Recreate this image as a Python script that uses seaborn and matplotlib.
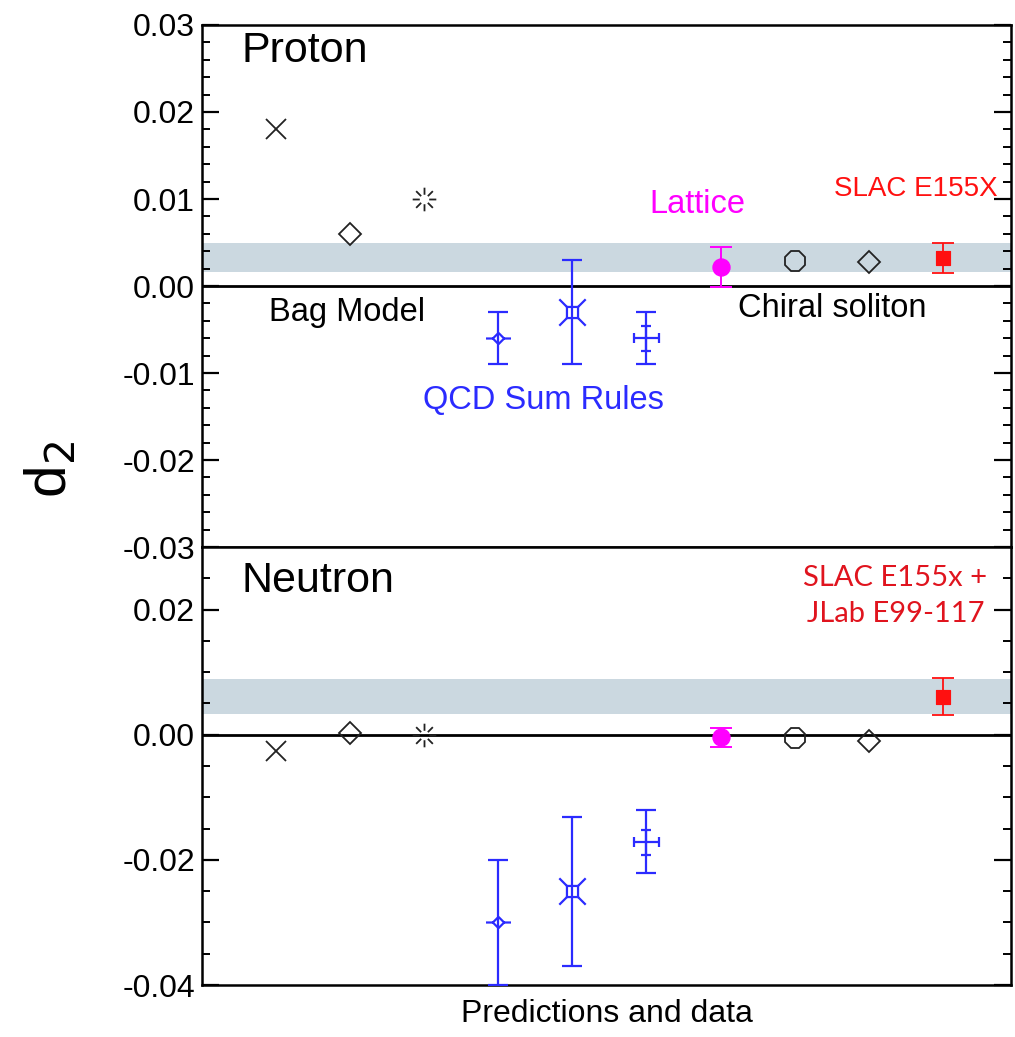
import numpy as np
import matplotlib
matplotlib.use("Agg")
import matplotlib.pyplot as plt
from matplotlib.path import Path
from matplotlib.ticker import MultipleLocator
import seaborn as sns

# values
x_pos = [1, 2, 3, 4, 5, 6, 7, 8, 9, 10]
proton_d2 = [0.0180, 0.0060, 0.0100, -0.0060, -0.0030, -0.0060, 0.0022, 0.0029, 0.0028, 0.0032]
proton_err = [0, 0, 0, 0.0030, 0.0060, 0.0030, 0.0023, 0, 0, 0.0017]
neutron_d2 = [-0.0026, 0.0003, 0.0000, -0.0300, -0.0250, -0.0171, -0.0004, -0.0006, -0.0010, 0.0061]
neutron_err = [0, 0, 0, 0.0100, 0.0119, 0.0050, 0.0015, 0, 0, 0.0029]
proton_band = [0.0016, 0.0049]
neutron_band = [0.0033, 0.0089]
proton_ticks = [-0.03, -0.02, -0.01, 0.00, 0.01, 0.02, 0.03]
neutron_ticks = [-0.04, -0.02, 0.00, 0.02]

sns.set_theme(style="white")
plt.rcParams['font.family'] = ['Liberation Sans', 'DejaVu Sans']
plt.rcParams['axes.unicode_minus'] = False
plt.rcParams['text.color'] = 'black'
plt.rcParams['axes.labelcolor'] = 'black'

# custom marker shapes
def broken_asterisk():
    verts, codes = [], []
    for a in np.deg2rad(np.arange(0, 360, 45)):
        verts += [(0.4 * np.cos(a), 0.4 * np.sin(a)), (np.cos(a), np.sin(a))]
        codes += [Path.MOVETO, Path.LINETO]
    return Path(verts, codes)

def diamond_bar():
    d = 0.45
    verts = [(0, d), (d, 0), (0, -d), (-d, 0), (0, d), (-1, 0), (-d, 0), (d, 0), (1, 0)]
    codes = [Path.MOVETO, Path.LINETO, Path.LINETO, Path.LINETO, Path.LINETO,
             Path.MOVETO, Path.LINETO, Path.MOVETO, Path.LINETO]
    return Path(verts, codes)

def square_cross():
    s = 0.42
    verts = [(-s, -s), (s, -s), (s, s), (-s, s), (-s, -s)]
    codes = [Path.MOVETO, Path.LINETO, Path.LINETO, Path.LINETO, Path.LINETO]
    for sx, sy in [(1, 1), (1, -1), (-1, 1), (-1, -1)]:
        verts += [(sx * s, sy * s), (sx, sy)]
        codes += [Path.MOVETO, Path.LINETO]
    return Path(verts, codes)

def capped_plus():
    c = 0.42
    verts = [(-1, 0), (1, 0), (0, -1), (0, 1),
             (-1, -c), (-1, c), (1, -c), (1, c),
             (-c, 1), (c, 1), (-c, -1), (c, -1)]
    codes = [Path.MOVETO, Path.LINETO] * 6
    return Path(verts, codes)

black_styles = [('x', 15), ('D', 11), (broken_asterisk(), 17)]
blue_styles = [(diamond_bar(), 18), (square_cross(), 19), (capped_plus(), 18)]
blue = '#2b2bff'
magenta = '#ff00ff'
red = '#ff1010'
band_color = '#cbd8e0'

fig = plt.figure(figsize=(10.15, 10.37), dpi=100)
ax1 = fig.add_axes([0.199, 0.4725, 0.797, 0.5034])
ax2 = fig.add_axes([0.199, 0.0501, 0.797, 0.4224])

def draw_panel(ax, vals, errs, band):
    ax.axhspan(band[0], band[1], color=band_color, lw=0, zorder=0)
    ax.axhline(0, color='black', lw=2.0, zorder=1)
    for i in range(3):
        m, ms = black_styles[i]
        ax.plot(x_pos[i], vals[i], marker=m, ms=ms, mfc='none', mec='#222222',
                mew=1.3, ls='none', zorder=3)
    for j in range(3):
        i = j + 3
        m, ms = blue_styles[j]
        ax.errorbar(x_pos[i], vals[i], yerr=errs[i], fmt='none', ecolor=blue,
                    elinewidth=1.6, capsize=7, capthick=1.6, zorder=3)
        ax.plot(x_pos[i], vals[i], marker=m, ms=ms, mfc='none', mec=blue,
                mew=1.6, ls='none', zorder=4)
    # lattice
    ax.errorbar(x_pos[6], vals[6], yerr=errs[6], fmt='none', ecolor=magenta,
                elinewidth=1.4, capsize=8, capthick=1.4, zorder=3)
    sns.scatterplot(x=[x_pos[6]], y=[vals[6]], color=magenta, marker='o', s=150,
                    edgecolor=magenta, ax=ax, zorder=4)
    # chiral soliton
    ax.plot(x_pos[7], vals[7], marker='8', ms=15, mfc='none', mec='#222222', mew=1.3, ls='none', zorder=3)
    ax.plot(x_pos[8], vals[8], marker='D', ms=11, mfc='none', mec='#222222', mew=1.3, ls='none', zorder=3)
    # data
    ax.errorbar(x_pos[9], vals[9], yerr=errs[9], fmt='none', ecolor=red,
                elinewidth=1.3, capsize=8, capthick=1.3, zorder=3)
    sns.scatterplot(x=[x_pos[9]], y=[vals[9]], color=red, marker='s', s=110,
                    edgecolor=red, ax=ax, zorder=4)

    ax.set_xlim(0, 10.92)
    ax.set_xticks([])
    for sp in ax.spines.values():
        sp.set_visible(True)
        sp.set_color('black')
        sp.set_linewidth(1.8)
    ax.tick_params(axis='y', which='both', direction='in', left=True, right=True,
                   labelsize=23, pad=5, colors='black')
    ax.tick_params(axis='y', which='major', length=12, width=1.6)
    ax.tick_params(axis='y', which='minor', length=6, width=1.4)

draw_panel(ax1, proton_d2, proton_err, proton_band)
draw_panel(ax2, neutron_d2, neutron_err, neutron_band)

ax1.set_ylim(-0.03, 0.03)
ax1.set_yticks(proton_ticks)
ax1.set_yticklabels(['%.2f' % t for t in proton_ticks])
ax1.yaxis.set_minor_locator(MultipleLocator(0.002))

ax2.set_ylim(-0.04, 0.03)
ax2.set_yticks(neutron_ticks)
ax2.set_yticklabels(['%.2f' % t for t in neutron_ticks])
ax2.yaxis.set_minor_locator(MultipleLocator(0.005))

# panel annotations
ax1.text(0.54, 0.0270, 'Proton', fontsize=31, ha='left', va='center', color='black')
ax2.text(0.54, 0.0245, 'Neutron', fontsize=31, ha='left', va='center', color='black')
ax1.text(1.96, -0.0031, 'Bag Model', fontsize=23.5, ha='center', va='center', color='black')
ax1.text(8.51, -0.0026, 'Chiral soliton', fontsize=23.5, ha='center', va='center', color='black')
ax1.text(4.61, -0.0132, 'QCD Sum Rules', fontsize=23.5, ha='center', va='center', color=blue)
ax1.text(6.69, 0.0094, 'Lattice', fontsize=23.5, ha='center', va='center', color=magenta)
ax1.text(9.64, 0.0111, 'SLAC E155X', fontsize=20, ha='center', va='center', color=red)
ax2.text(9.36, 0.0222, 'SLAC E155x +\nJLab E99-117', fontsize=21, ha='center', va='center',
         color='#e0141e', linespacing=1.45, family=['Lato', 'DejaVu Sans'])

ax2.set_xlabel('Predictions and data', fontsize=23, labelpad=10, color='black')
fig.text(0.05, 0.547, 'd$_2$', fontsize=42, rotation=90, ha='center', va='center', color='black')

fig.savefig('out.png', dpi=100, facecolor='white')
